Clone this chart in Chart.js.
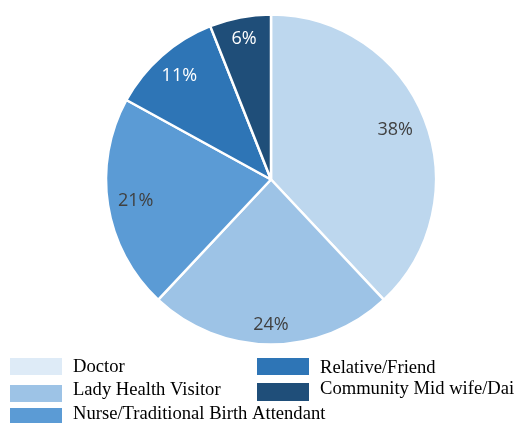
<!DOCTYPE html>
<html>
<head>
<meta charset="utf-8">
<script src="https://cdn.jsdelivr.net/npm/chart.js@4"></script>
<style>
  html, body { margin: 0; padding: 0; background: #fff; }
  #wrap { width: 519px; height: 423px; }
</style>
</head>
<body>
<div id="wrap"><canvas id="myChart" width="519" height="423"></canvas></div>
<script>
const labels = [
  'Doctor',
  'Lady Health Visitor',
  'Nurse/Traditional Birth Attendant',
  'Relative/Friend',
  'Community Mid wife/Dai',
];

// percent of respondents
const values = [38, 24, 21, 11, 6];

const sliceColors = ['#BDD7EE', '#9DC3E6', '#5B9BD5', '#2E75B6', '#1F4E79'];
const legendColors = ['#DEEBF7', '#9DC3E6', '#5B9BD5', '#2E75B6', '#1F4E79'];
const labelColors = ['#404040', '#404040', '#404040', '#ffffff', '#ffffff'];

// how far out each percent label sits, as a share of the radius
const labelRadius = [0.81, 0.88, 0.83, 0.84, 0.87];

// legend slots: box left, box top, box height, text centre y
const legendSlots = [
  [10, 358, 17, 367],
  [10, 385, 17, 390],
  [10, 408, 17, 414],
  [257, 358, 17, 368],
  [257, 383, 18, 389],
];

// percent text inside each slice
const sliceLabels = {
  id: 'sliceLabels',
  afterDatasetsDraw(chart) {
    const ctx = chart.ctx;
    const meta = chart.getDatasetMeta(0);
    ctx.save();
    ctx.font = '18px "Open Sans"';
    ctx.textAlign = 'center';
    ctx.textBaseline = 'middle';
    meta.data.forEach((arc, i) => {
      const mid = (arc.startAngle + arc.endAngle) / 2;
      const r = arc.outerRadius * labelRadius[i];
      ctx.fillStyle = labelColors[i];
      ctx.fillText(values[i] + '%', arc.x + Math.cos(mid) * r, arc.y + Math.sin(mid) * r);
    });
    ctx.restore();
  }
};

// two-column legend below the pie
const boxLegend = {
  id: 'boxLegend',
  afterDraw(chart) {
    const ctx = chart.ctx;
    ctx.save();
    ctx.font = '18.6px "Liberation Serif"';
    ctx.textBaseline = 'middle';
    ctx.textAlign = 'left';
    labels.forEach((name, i) => {
      const [x, y, h, ty] = legendSlots[i];
      ctx.fillStyle = legendColors[i];
      ctx.fillRect(x, y, 52, h);
      ctx.fillStyle = '#000000';
      ctx.fillText(name, x + 63, ty);
    });
    ctx.restore();
  }
};

const data = {
  labels: labels,
  datasets: [
    {
      data: values,
      backgroundColor: sliceColors,
      borderColor: '#ffffff',
      borderWidth: 2.5,
    }
  ]
};

const config = {
  type: 'pie',
  data: data,
  options: {
    responsive: false,
    animation: false,
    radius: 165,
    layout: { padding: { left: 23, right: 0, top: 0, bottom: 64 } },
    plugins: {
      legend: { display: false },
      tooltip: { enabled: false },
    }
  },
  plugins: [sliceLabels, boxLegend]
};

const myChart = new Chart(
  document.getElementById('myChart'),
  config
);
</script>
</body>
</html>
